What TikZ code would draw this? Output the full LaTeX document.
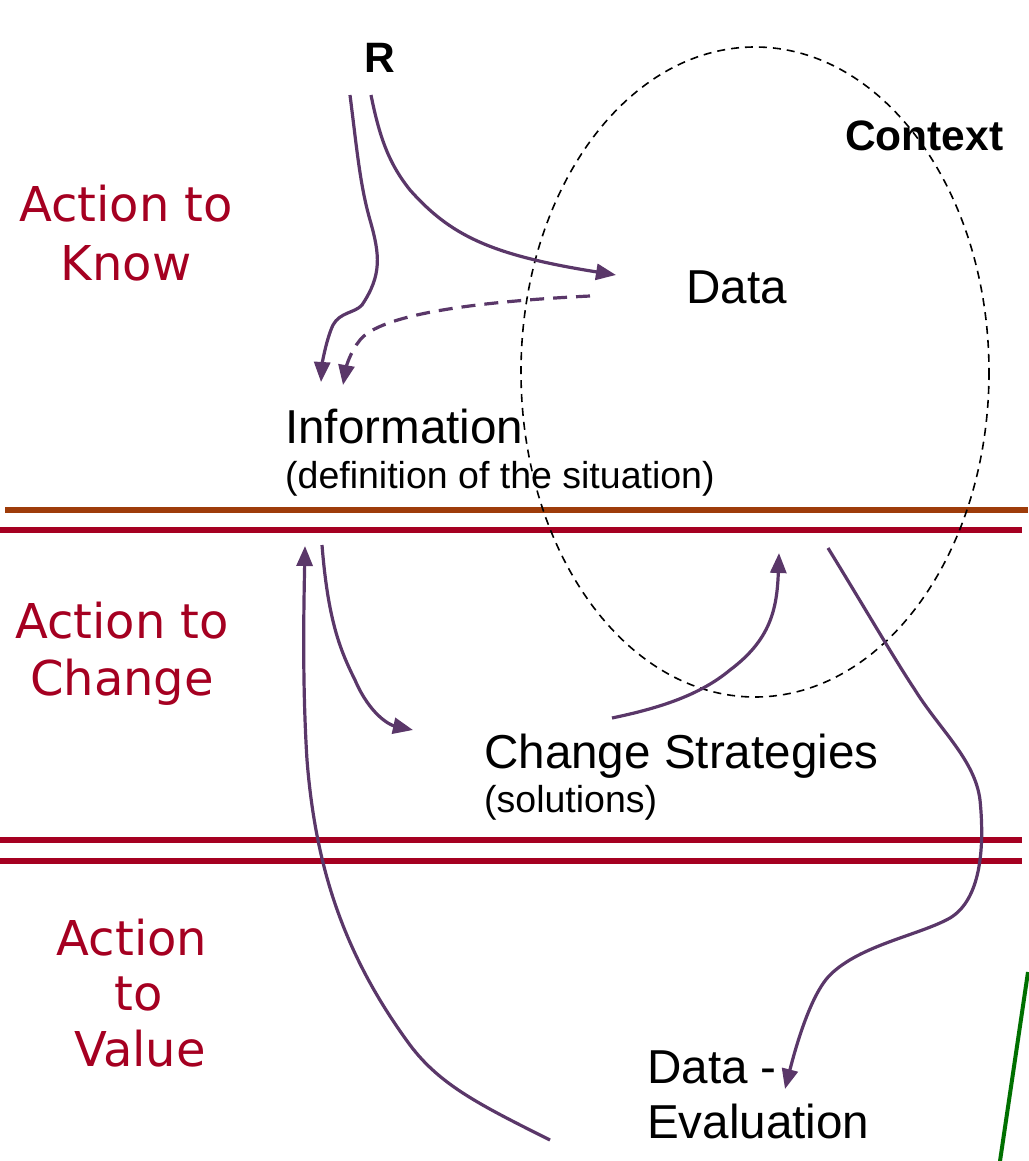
\documentclass[tikz,border=0pt]{standalone}
\usepackage{fontspec}
\setmainfont{Liberation Sans}
\newfontfamily\dejavu{DejaVu Sans}
\usetikzlibrary{arrows.meta}
\definecolor{myred}{HTML}{A50021}
\definecolor{mypurple}{HTML}{5A3769}
\definecolor{mybrown}{HTML}{9E3C0A}
\definecolor{mygreen}{HTML}{007000}
\tikzset{
  act/.style={text=myred, font=\dejavu\fontsize{48}{56}\selectfont, anchor=base, inner sep=0pt},
  big/.style={font=\fontsize{47.6}{56}\selectfont, anchor=base west, inner sep=0pt},
  small/.style={font=\fontsize{37.5}{44}\selectfont, anchor=base west, inner sep=0pt},
  bold/.style={font=\bfseries\fontsize{42.5}{48}\selectfont, anchor=base west, inner sep=0pt},
  flow/.style={draw=mypurple, line width=3.2pt, -{Triangle[length=20pt,width=16pt]}},
  sep/.style={line width=6pt},
}
\begin{document}
\begin{tikzpicture}[x=1pt,y=-1pt]
\useasboundingbox (0,0) rectangle (1028,1161);
% separators
\draw[sep, mybrown] (5,510) coordinate (b1) -- (1028,510) coordinate (b2);
\draw[sep, myred] (0,530) coordinate (r1a) -- (1022,530) coordinate (r1b);
\draw[sep, myred] (0,840) coordinate (r2a) -- (1022,840) coordinate (r2b);
\draw[sep, myred] (0,861) coordinate (r3a) -- (1022,861) coordinate (r3b);
% context ellipse
\coordinate (ctxc) at (755,372);
\draw[black, line width=1.6pt, dash pattern=on 8pt off 6pt] (ctxc) ellipse [x radius=234, y radius=325];
% labels
\node[act] (k1) at (126,222) {Action to};
\node[act] (k2) at (126,280) {Know};
\node[act] (c1) at (122,638) {Action to};
\node[act] (c2) at (122,695) {Change};
\node[act] (v1) at (132,955) {Action};
\node[act] (v2) at (139,1010) {to};
\node[act] (v3) at (140,1066) {Value};
\node[bold, anchor=base] (R) at (380,73) {R};
\node[bold] (ctx) at (845,151) {Context};
\node[big] (data) at (686,303) {Data};
\node[big] (info) at (285,443) {Information};
\node[small] (infos) at (285,488) {(definition of the situation)};
\node[big] (chg) at (484,768) {Change Strategies};
\node[small] (chgs) at (484,812) {(solutions)};
\node[big] (de1) at (647,1083) {Data -};
\node[big] (de2) at (647,1138) {Evaluation};
% arrow end points
\coordinate (p1s) at (350,95);  \coordinate (p1e) at (321,382);
\coordinate (p2s) at (371,95);  \coordinate (p2e) at (616,275);
\coordinate (p3s) at (590,296); \coordinate (p3e) at (343,385);
\coordinate (p4s) at (550,1140);\coordinate (p4e) at (305,546);
\coordinate (p5s) at (322,545); \coordinate (p5e) at (413,730);
\coordinate (p6s) at (612,718); \coordinate (p6e) at (779,553);
\coordinate (p7s) at (828,548); \coordinate (p7e) at (785,1089);
\coordinate (g1) at (1028,972); \coordinate (g2) at (1000,1161);
% arrows
\draw[flow] (p1s) .. controls (357,150) and (360,185) .. (370,220) .. controls (380,255) and (382,275) .. (362,305) .. controls (355,313) and (340,312) .. (333,325) .. controls (326,340) and (322,365) .. (p1e);
\draw[flow] (p2s) .. controls (380,140) and (390,165) .. (410,190) .. controls (450,235) and (490,255) .. (p2e);
\draw[flow, dash pattern=on 14pt off 9pt] (p3s) .. controls (470,302) and (380,315) .. (360,340) .. controls (350,352) and (346,368) .. (p3e);
\draw[flow] (p4s) .. controls (480,1105) and (440,1085) .. (410,1045) .. controls (340,950) and (315,860) .. (307,760) .. controls (302,680) and (304,600) .. (p4e);
\draw[flow] (p5s) .. controls (328,620) and (340,650) .. (355,680) .. controls (370,715) and (390,725) .. (p5e);
\draw[flow] (p6s) .. controls (660,708) and (700,695) .. (730,670) .. controls (770,640) and (777,610) .. (p6e);
\draw[flow] (p7s) .. controls (860,600) and (895,660) .. (915,690) .. controls (940,730) and (975,760) .. (980,800) .. controls (985,850) and (980,900) .. (950,918) .. controls (920,935) and (860,945) .. (830,975) .. controls (810,995) and (795,1050) .. (p7e);
\draw[mygreen, line width=4pt] (g1) -- (g2);
\end{tikzpicture}
\end{document}
